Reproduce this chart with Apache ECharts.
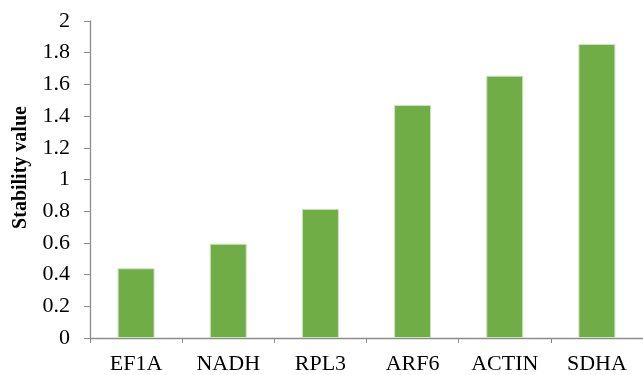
<!DOCTYPE html>
<html>
<head>
<meta charset="utf-8">
<script src="https://cdn.jsdelivr.net/npm/echarts@6/dist/echarts.min.js"></script>
<style>
  html, body { margin: 0; padding: 0; background: #fff; }
  #chart { width: 643px; height: 375px; }
</style>
</head>
<body>
<div id="chart"></div>
<script>
// Reference genes and their stability values
const genes = ['EF1A', 'NADH', 'RPL3', 'ARF6', 'ACTIN', 'SDHA'];
const stability = [0.44, 0.595, 0.815, 1.47, 1.655, 1.855];
const yTicks = [0, 0.2, 0.4, 0.6, 0.8, 1, 1.2, 1.4, 1.6, 1.8, 2];

const serif = '"Liberation Serif", "Times New Roman", serif';
const axisGray = '#8c8c8c';

const chart = echarts.init(document.getElementById('chart'), null, { renderer: 'canvas' });
chart.setOption({
  animation: false,
  backgroundColor: '#ffffff',
  grid: { left: 90, right: 0, top: 21, bottom: 37, containLabel: false, outerBoundsMode: 'none' },
  xAxis: {
    type: 'category',
    data: genes,
    axisLine: { lineStyle: { color: axisGray, width: 1.3 } },
    axisTick: { show: true, length: 5, alignWithLabel: false, lineStyle: { color: axisGray } },
    axisLabel: { color: '#000', fontFamily: serif, fontSize: 22, margin: 15 }
  },
  yAxis: {
    type: 'value',
    min: yTicks[0],
    max: yTicks[yTicks.length - 1],
    interval: 0.2,
    name: 'Stability value',
    nameLocation: 'middle',
    nameGap: 59,
    nameTextStyle: { color: '#000', fontFamily: serif, fontSize: 20, fontWeight: 'bold', padding: [0, 0, 0, 24] },
    splitLine: { show: false },
    axisLine: { show: true, lineStyle: { color: axisGray, width: 1.3 } },
    axisTick: { show: true, length: 6, lineStyle: { color: axisGray } },
    axisLabel: {
      color: '#000', fontFamily: serif, fontSize: 22, margin: 20,
      formatter: v => String(Math.round(v * 10) / 10)
    }
  },
  series: [{
    type: 'bar',
    data: stability,
    barWidth: 37,
    itemStyle: { color: '#70ad47', borderColor: '#cfe3c2', borderWidth: 1 }
  }]
});
</script>
</body>
</html>
